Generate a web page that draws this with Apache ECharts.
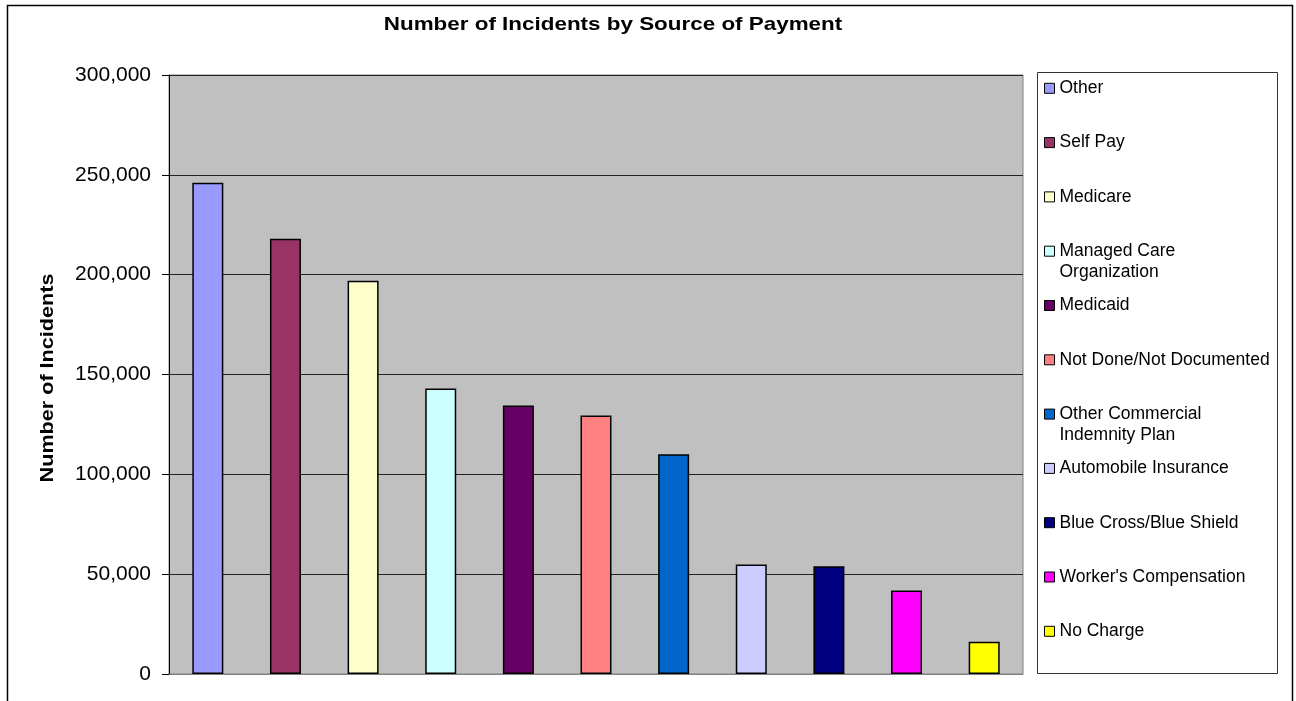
<!DOCTYPE html>
<html>
<head>
<meta charset="utf-8">
<script src="https://cdn.jsdelivr.net/npm/echarts@6/dist/echarts.min.js"></script>
<style>html,body{margin:0;padding:0;background:#fff;}#c{width:1296px;height:701px;}</style>
</head>
<body>
<div id="c"></div>
<script>
const categories = ["Other","Self Pay","Medicare","Managed Care Organization","Medicaid","Not Done/Not Documented","Other Commercial Indemnity Plan","Automobile Insurance","Blue Cross/Blue Shield","Worker's Compensation","No Charge"];
const legendLabels = ["Other","Self Pay","Medicare","Managed Care\nOrganization","Medicaid","Not Done/Not Documented","Other Commercial\nIndemnity Plan","Automobile Insurance","Blue Cross/Blue Shield","Worker's Compensation","No Charge"];
const values = [246000, 218000, 197000, 143000, 134500, 129500, 110000, 54800, 54000, 41800, 16200];
const colors = ["#9999FF","#993366","#FFFFCC","#CCFFFF","#660066","#FF8080","#0066CC","#CCCCFF","#000080","#FF00FF","#FFFF00"];
const yTicks = [0, 50000, 100000, 150000, 200000, 250000, 300000];
const chartTitle = 'Number of Incidents by Source of Payment';
const yAxisTitle = 'Number of Incidents';

const FONT = "'Liberation Sans', Arial, sans-serif";
const chart = echarts.init(document.getElementById('c'), null, {renderer:'canvas'});

const series = categories.map((name, i) => ({
  name: name,
  type: 'bar',
  stack: 'all',
  barWidth: 31,
  data: categories.map((c, j) => j === i ? values[i] : '-'),
  itemStyle: { color: colors[i], borderColor: '#000', borderWidth: 1.5 },
  emphasis: { disabled: true },
  animation: false
}));

const legendCenters = categories.map((c, i) => 88.3 + 54.3 * i);
const legends = categories.map((name, i) => {
  const twoLine = legendLabels[i].indexOf('\n') >= 0;
  return {
    data: [name],
    left: 1044,
    top: twoLine ? legendCenters[i] - 31.5 : legendCenters[i] - 9,
    padding: 0,
    orient: 'vertical',
    icon: 'rect',
    itemWidth: 10,
    itemHeight: 10,
    selectedMode: false,
    formatter: () => twoLine ? ' \n' + legendLabels[i] : legendLabels[i],
    itemStyle: { borderColor: '#000', borderWidth: 1 },
    textStyle: twoLine
      ? { fontFamily: FONT, fontSize: 17.5, color: '#000', lineHeight: 21 }
      : { fontFamily: FONT, fontSize: 17.5, color: '#000' }
  };
});

chart.setOption({
  backgroundColor: '#fff',
  animation: false,
  legend: legends,
  grid: { left: 169, top: 75, width: 854, height: 599, show: true, backgroundColor: '#C0C0C0', borderColor: '#808080', borderWidth: 1, containLabel: false },
  xAxis: {
    type: 'category',
    data: categories,
    axisTick: { show: false },
    axisLabel: { show: false },
    axisLine: { lineStyle: { color: '#808080', width: 1 } }
  },
  yAxis: {
    type: 'value',
    min: yTicks[0],
    max: yTicks[yTicks.length - 1],
    interval: yTicks[1] - yTicks[0],
    axisLine: { show: true, lineStyle: { color: '#000', width: 1 } },
    axisTick: { show: true, inside: false, length: 7, lineStyle: { color: '#000' } },
    axisLabel: { margin: 18, fontFamily: FONT, fontSize: 21, color: '#000', formatter: v => v.toLocaleString('en-US') },
    splitLine: { show: true, lineStyle: { color: '#222', width: 1 } }
  },
  graphic: [
    { type: 'rect', shape: { x: 7.5, y: 5.5, width: 1285, height: 720 }, style: { fill: 'none', stroke: '#000', lineWidth: 1.5 }, silent: true, z: -1 },
    { type: 'rect', shape: { x: 1037.5, y: 72.5, width: 240, height: 601 }, style: { fill: 'none', stroke: '#333', lineWidth: 1 }, silent: true, z: -1 },
    { type: 'text', x: 613, y: 25, scaleX: 1.18, style: { text: chartTitle, font: "bold 19px 'Liberation Sans', Arial, sans-serif", fill: '#000', textAlign: 'center', textVerticalAlign: 'middle' }, silent: true },
    { type: 'text', x: 48, y: 378, rotation: Math.PI / 2, scaleX: 1.2, style: { text: yAxisTitle, font: "bold 18px 'Liberation Sans', Arial, sans-serif", fill: '#000', textAlign: 'center', textVerticalAlign: 'middle' }, silent: true }
  ],
  series: series
});
</script>
</body>
</html>
